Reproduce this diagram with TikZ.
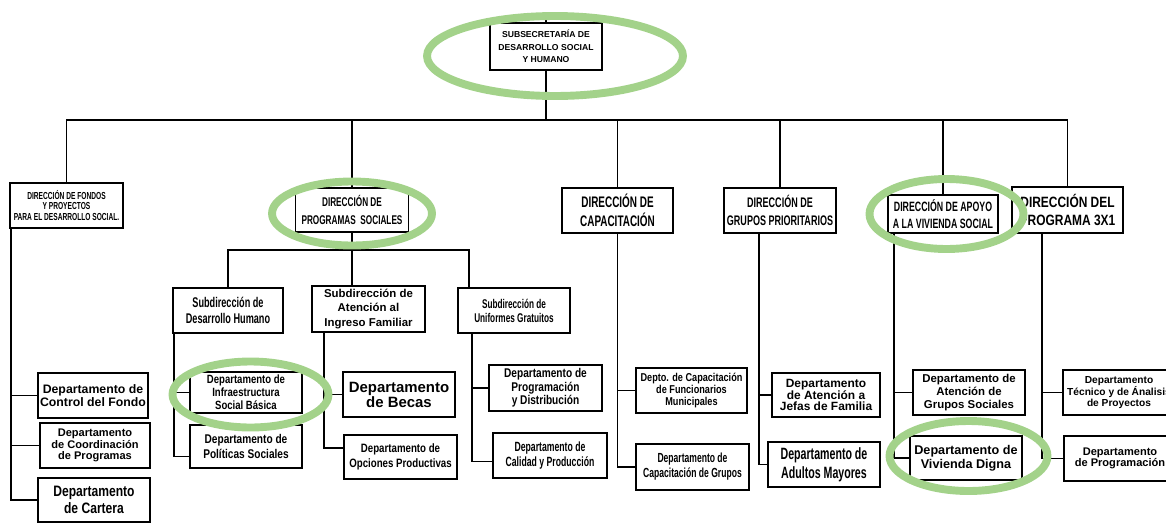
\documentclass[tikz,border=0pt]{standalone}
\usepackage{fontspec}
\setmainfont{Liberation Sans}
\newfontfamily\cond[FakeStretch=0.65]{Liberation Sans}
\newfontfamily\semi[FakeStretch=0.8]{Liberation Sans}
\newcommand\fz[2]{\fontsize{#1}{#2}\selectfont}
\definecolor{hlgreen}{RGB}{163,210,138}
\tikzset{
	box/.style={draw=black, line width=1.1pt, fill=white, align=center, inner sep=1pt},
	wh/.style 2 args={minimum width=#1*0.02cm, minimum height=#2*0.02cm},
	link/.style={line width=1.1pt},
	hilite/.style={draw=hlgreen, line width=4.5pt}
}

\begin{document}
\begin{tikzpicture}[x=0.02cm, y=-0.02cm]
			\clip (0,0) rectangle (1166,524);
			% Top
			\node[box, wh={112}{47}, font=\bfseries\fz{4.9}{7.2}] (top) at (546,46.5) {SUBSECRETARÍA DE\\DESARROLLO SOCIAL\\Y HUMANO};
			\coordinate (topin) at (546,15);
			\coordinate (bus) at (546,120);
			
			% Direcciones
			\node[box, wh={113}{45}, font=\cond\bfseries\fz{5.8}{5.9}] (fondos) at (66.5,205.5) {DIRECCIÓN DE FONDOS\\Y PROYECTOS\\PARA EL DESARROLLO SOCIAL.};
			\node[box, wh={113}{44}, font=\cond\bfseries\fz{7.2}{10}] (prog) at (352,210) {DIRECCIÓN DE\\PROGRAMAS\ \ SOCIALES};
			\node[box, wh={111}{45}, font=\cond\bfseries\fz{8.7}{10.5}] (capac) at (617.5,210.5) {DIRECCIÓN DE\\CAPACITACIÓN};
			\node[box, wh={112}{45}, font=\cond\bfseries\fz{7.9}{10.5}] (grupos) at (780,210.5) {DIRECCIÓN DE\\GRUPOS PRIORITARIOS};
			\node[box, wh={110}{38}, font=\cond\bfseries\fz{7.7}{10}] (apoyo) at (943,214) {DIRECCIÓN DE APOYO\\A LA VIVIENDA SOCIAL};
			\node[box, wh={111}{46}, font=\semi\bfseries\fz{8.5}{10.5}] (tresx) at (1067.5,210) {DIRECCIÓN DEL\\PROGRAMA 3X1};
			
			% Subdirecciones
			\node[box, wh={110}{45}, font=\cond\bfseries\fz{8}{9}] (sub1) at (228,310.5) {Subdirección de\\Desarrollo Humano};
			\node[box, wh={113}{46}, font=\bfseries\fz{6.5}{8}] (sub2) at (368.5,309) {Subdirección de\\Atención al\\Ingreso Familiar};
			\node[box, wh={112}{45}, font=\cond\bfseries\fz{7.2}{8}] (sub3) at (514,310.5) {Subdirección de\\Uniformes Gratuitos};
			
			% Departamentos
			\node[box, wh={110}{45}, font=\bfseries\fz{7}{7.6}] (control) at (93,395.5) {Departamento de\\Control del Fondo};
			\node[box, wh={110}{45}, font=\bfseries\fz{6.3}{6.6}] (coord) at (95,445.5) {Departamento\\de Coordinación\\de Programas};
			\node[box, wh={112}{44}, font=\semi\bfseries\fz{8.6}{9.8}] (cartera) at (94,500) {Departamento\\de Cartera};
			\node[box, wh={112}{41}, font=\semi\bfseries\fz{6.8}{7.4}] (infra) at (246,392.5) {Departamento de\\Infraestructura\\Social Básica};
			\node[box, wh={112}{43}, font=\semi\bfseries\fz{7.2}{8.5}] (polit) at (246,446.5) {Departamento de\\Políticas Sociales};
			\node[box, wh={112}{45}, font=\bfseries\fz{8.5}{8.6}] (becas) at (399,394.5) {Departamento\\de Becas};
			\node[box, wh={113}{44}, font=\semi\bfseries\fz{6.9}{8.5}] (opcion) at (400.5,457) {Departamento de\\Opciones Productivas};
			\node[box, wh={113}{46}, font=\semi\bfseries\fz{7.2}{7.6}] (distrib) at (545.5,388) {Departamento de\\Programación\\y Distribución};
			\node[box, wh={114}{45}, font=\cond\bfseries\fz{7.6}{8.5}] (calidad) at (550,455.5) {Departamento de\\Calidad y Producción};
			\node[box, wh={111}{45}, font=\semi\bfseries\fz{6.5}{6.6}] (funcion) at (691.5,390.5) {Depto. de Capacitación\\de Funcionarios\\Municipales};
			\node[box, wh={113}{46}, font=\cond\bfseries\fz{7.5}{8.5}] (capgr) at (692.5,467) {Departamento de\\Capacitación de Grupos};
			\node[box, wh={108}{44}, font=\bfseries\fz{6.8}{6.7}] (jefas) at (826,395) {Departamento\\de Atención a\\Jefas de Familia};
			\node[box, wh={112}{45}, font=\cond\bfseries\fz{9.3}{11}] (adultos) at (824,464.5) {Departamento de\\Adultos Mayores};
			\node[box, wh={112}{45}, font=\bfseries\fz{6.5}{7.4}] (atgs) at (969,392.5) {Departamento de\\Atención de\\Grupos Sociales};
			\node[box, wh={112}{44}, font=\bfseries\fz{7.2}{8}] (vivienda) at (966,458) {Departamento de\\Vivienda Digna};
			\node[box, wh={112}{45}, font=\bfseries\fz{5.8}{6.2}] (tecnico) at (1119,392.5) {Departamento\\Técnico y de Ánalisis\\de Proyectos};
			\node[box, wh={112}{45}, font=\bfseries\fz{6.3}{6.6}] (prog3) at (1120,458.5) {Departamento\\de Programación};
			
			% Edges
			\draw[link] (topin) -- (top.north);
			\draw[link] (top.south) -- (bus);
			\draw[link] (bus) -| (fondos.north);
			\draw[link] (bus) -| (prog.north);
			\draw[link] (bus) -| (capac.north);
			\draw[link] (bus) -| (grupos.north);
			\draw[link] (bus) -| (apoyo.north);
			\draw[link] (bus) -| (tresx.north);
			
			\draw[link] ([xshift=0.04cm]fondos.south west) |- (control.west);
			\draw[link] ([xshift=0.04cm]fondos.south west) |- (coord.west);
			\draw[link] ([xshift=0.04cm]fondos.south west) |- (cartera.west);
			
			\coordinate (pbus) at (352,250);
			\draw[link] (prog.south) -- (pbus);
			\draw[link] (pbus) -| (sub1.north);
			\draw[link] (pbus) -- (pbus |- sub2.north);
			\draw[link] (pbus) -| ([xshift=0.24cm]sub3.north west);
			
			\draw[link] ([xshift=0.04cm]sub1.south west) |- (infra.west);
			\draw[link] ([xshift=0.04cm]sub1.south west) |- ([yshift=-0.2cm]polit.west);
			\draw[link] ([xshift=0.26cm]sub2.south west) |- (becas.west);
			\draw[link] ([xshift=0.26cm]sub2.south west) |- ([yshift=0.18cm]opcion.west);
			\draw[link] ([xshift=0.3cm]sub3.south west) |- (distrib.west);
			\draw[link] ([xshift=0.3cm]sub3.south west) |- ([yshift=-0.12cm]calidad.west);
			
			\draw[link] (capac.south) |- (funcion.west);
			\draw[link] (capac.south) |- (capgr.west);
			\draw[link] ([xshift=0.72cm]grupos.south west) |- (jefas.west);
			\draw[link] ([xshift=0.72cm]grupos.south west) |- (adultos.west);
			\draw[link] ([xshift=0.14cm]apoyo.south west) |- (atgs.west);
			\draw[link] ([xshift=0.14cm]apoyo.south west) |- (vivienda.west);
			\draw[link] ([xshift=0.62cm]tresx.south west) |- (tecnico.west);
			\draw[link] ([xshift=0.62cm]tresx.south west) |- (prog3.west);
			
			% Highlights
			\draw[hilite] (555,56) ellipse [x radius=2.56cm, y radius=0.8cm];
			\draw[hilite] (352,213.5) ellipse [x radius=1.6cm, y radius=0.64cm];
			\draw[hilite] (250.5,394.5) ellipse [x radius=1.56cm, y radius=0.66cm];
			\draw[hilite] (946.5,214) ellipse [x radius=1.54cm, y radius=0.7cm];
			\draw[hilite] (968.5,456) ellipse [x radius=1.58cm, y radius=0.7cm];
		\end{tikzpicture}
\end{document}
